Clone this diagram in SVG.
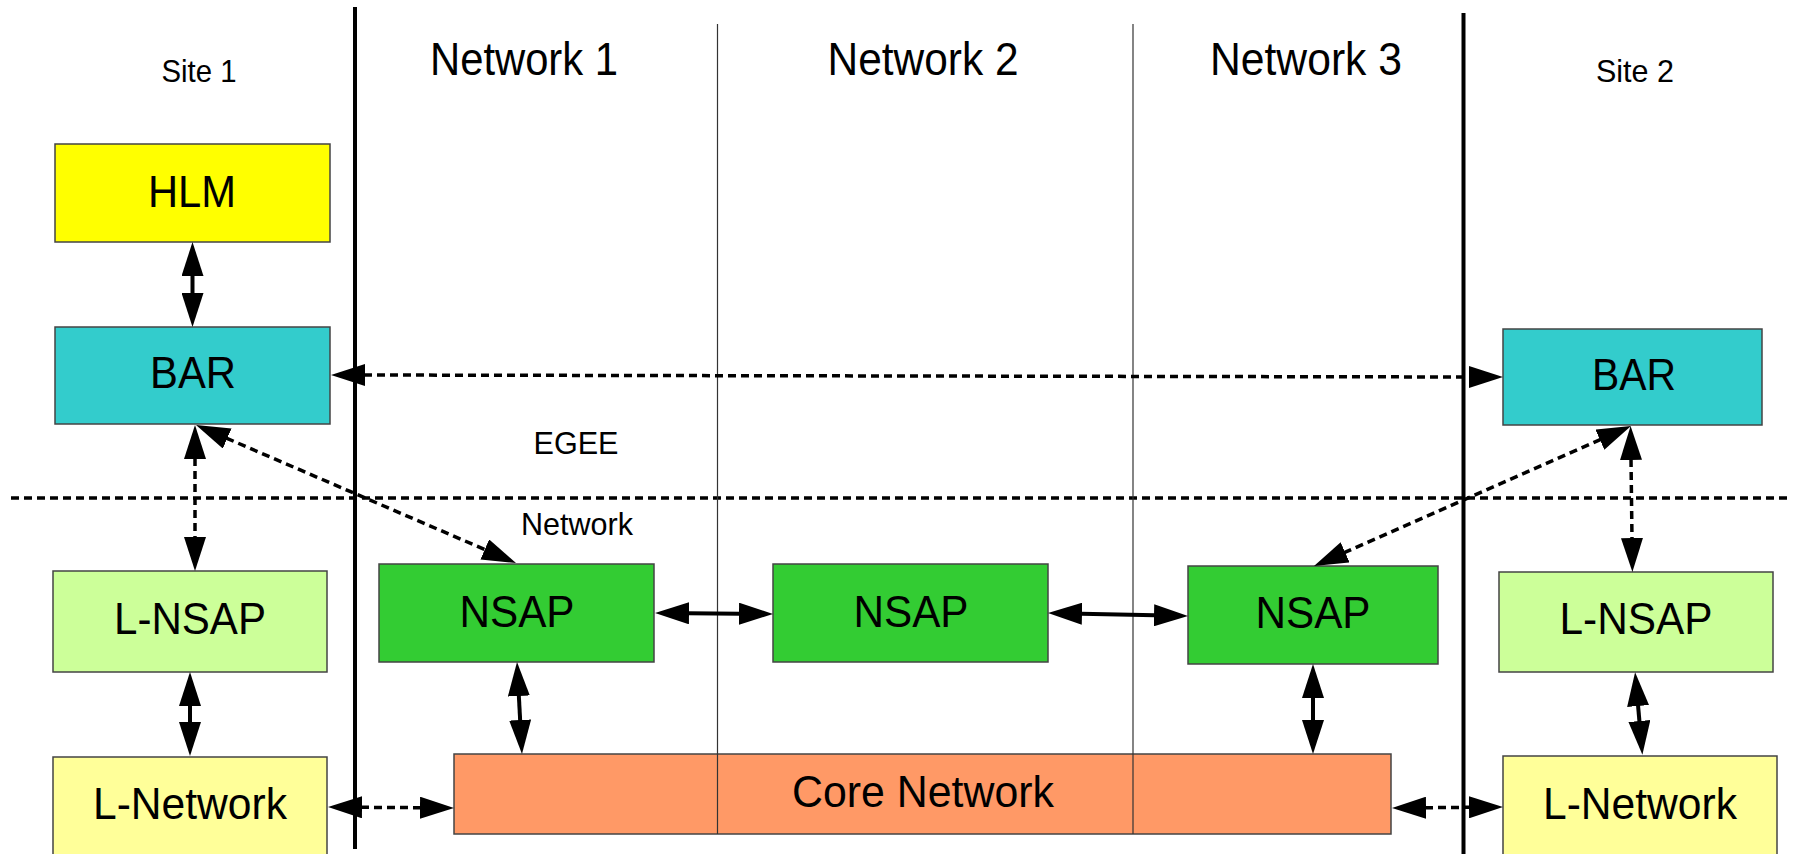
<svg xmlns="http://www.w3.org/2000/svg" width="1794" height="854" viewBox="0 0 1794 854">
<style>
text{font-family:"Liberation Sans",Arial,sans-serif;fill:#000;text-anchor:middle}
.big{font-size:44px}
.hdr{font-size:46px}
.sm{font-size:32px}
.box{stroke:#444;stroke-width:1.5}
.solid{stroke:#000;stroke-width:4;fill:none;marker-start:url(#ah);marker-end:url(#ah)}
.dash{stroke:#000;stroke-width:3.5;fill:none;stroke-dasharray:8 5;marker-start:url(#ah);marker-end:url(#ah)}
.thick{stroke:#000;stroke-width:4}
.thin{stroke:#333;stroke-width:1.2}
.divider{stroke:#000;stroke-width:3.5;stroke-dasharray:8 5}
</style>
<defs>
<marker id="ah" viewBox="0 0 34 22" markerWidth="34" markerHeight="22" refX="1" refY="11" orient="auto-start-reverse" markerUnits="userSpaceOnUse">
<path d="M0,0 L34,11 L0,22 z" fill="#000"/>
</marker>
</defs>
<rect width="1794" height="854" fill="#fff"/>
<g id="labels">
<text class="sm" x="199" y="82" textLength="75" lengthAdjust="spacingAndGlyphs">Site 1</text>
<text class="hdr" x="524" y="75" textLength="188" lengthAdjust="spacingAndGlyphs">Network 1</text>
<text class="hdr" x="923" y="75" textLength="191" lengthAdjust="spacingAndGlyphs">Network 2</text>
<text class="hdr" x="1306" y="75" textLength="192" lengthAdjust="spacingAndGlyphs">Network 3</text>
<text class="sm" x="1635" y="82" textLength="78" lengthAdjust="spacingAndGlyphs">Site 2</text>
<text class="sm" x="576" y="454" textLength="85" lengthAdjust="spacingAndGlyphs">EGEE</text>
<text class="sm" x="577" y="535" textLength="112" lengthAdjust="spacingAndGlyphs">Network</text>
</g>
<line id="egee-divider" class="divider" x1="11" y1="498" x2="1790" y2="498"/>
<g id="hlm"><rect class="box" x="55" y="144" width="275" height="98" fill="#ffff00"/><text class="big" x="192" y="207" textLength="88" lengthAdjust="spacingAndGlyphs">HLM</text></g>
<g id="bar1"><rect class="box" x="55" y="327" width="275" height="97" fill="#33cccc"/><text class="big" x="193" y="388" textLength="86" lengthAdjust="spacingAndGlyphs">BAR</text></g>
<g id="lnsap1"><rect class="box" x="53" y="571" width="274" height="101" fill="#ccff99"/><text class="big" x="190" y="634" textLength="152" lengthAdjust="spacingAndGlyphs">L-NSAP</text></g>
<g id="lnet1"><rect class="box" x="53" y="757" width="274" height="110" fill="#ffff99"/><text class="big" x="190" y="819" textLength="194" lengthAdjust="spacingAndGlyphs">L-Network</text></g>
<g id="nsap1"><rect class="box" x="379" y="564" width="275" height="98" fill="#33cc33"/><text class="big" x="517" y="627" textLength="115" lengthAdjust="spacingAndGlyphs">NSAP</text></g>
<g id="nsap2"><rect class="box" x="773" y="564" width="275" height="98" fill="#33cc33"/><text class="big" x="911" y="627" textLength="115" lengthAdjust="spacingAndGlyphs">NSAP</text></g>
<g id="nsap3"><rect class="box" x="1188" y="566" width="250" height="98" fill="#33cc33"/><text class="big" x="1313" y="628" textLength="115" lengthAdjust="spacingAndGlyphs">NSAP</text></g>
<g id="core"><rect class="box" x="454" y="754" width="937" height="80" fill="#ff9966"/><text class="big" x="923" y="807" textLength="262" lengthAdjust="spacingAndGlyphs">Core Network</text></g>
<g id="bar2"><rect class="box" x="1503" y="329" width="259" height="96" fill="#33cccc"/><text class="big" x="1634" y="390" textLength="84" lengthAdjust="spacingAndGlyphs">BAR</text></g>
<g id="lnsap2"><rect class="box" x="1499" y="572" width="274" height="100" fill="#ccff99"/><text class="big" x="1636" y="634" textLength="153" lengthAdjust="spacingAndGlyphs">L-NSAP</text></g>
<g id="lnet2"><rect class="box" x="1503" y="756" width="274" height="110" fill="#ffff99"/><text class="big" x="1640" y="819" textLength="194" lengthAdjust="spacingAndGlyphs">L-Network</text></g>
<g id="separators">
<line class="thick" x1="355" y1="7" x2="355" y2="849"/>
<line class="thick" x1="1463.5" y1="13" x2="1463.5" y2="854"/>
<line class="thin" x1="717.5" y1="24" x2="717.5" y2="834"/>
<line class="thin" x1="1133" y1="24" x2="1133" y2="834"/>
</g>
<g id="connectors">
<line class="solid" x1="192.5" y1="275" x2="192.5" y2="294"/>
<line class="dash" x1="364" y1="375" x2="1470" y2="377"/>
<line class="dash" x1="195" y1="458" x2="195" y2="538"/>
<line class="dash" x1="226.3" y1="438.1" x2="485.7" y2="549.9"/>
<line class="solid" x1="688" y1="613.3" x2="740" y2="613.7"/>
<line class="solid" x1="1081" y1="613.7" x2="1155" y2="615.3"/>
<line class="solid" x1="518.8" y1="695" x2="520.2" y2="721"/>
<line class="solid" x1="1313" y1="697" x2="1313" y2="721"/>
<line class="dash" x1="361" y1="807.3" x2="421" y2="807.7"/>
<line class="dash" x1="1425" y1="807.7" x2="1470" y2="807.3"/>
<line class="solid" x1="190" y1="705" x2="190" y2="723"/>
<line class="dash" x1="1631" y1="459" x2="1632" y2="539"/>
<line class="dash" x1="1600.8" y1="439.3" x2="1344.2" y2="552.7"/>
<line class="solid" x1="1638" y1="705" x2="1639.5" y2="722"/>
</g>
</svg>
